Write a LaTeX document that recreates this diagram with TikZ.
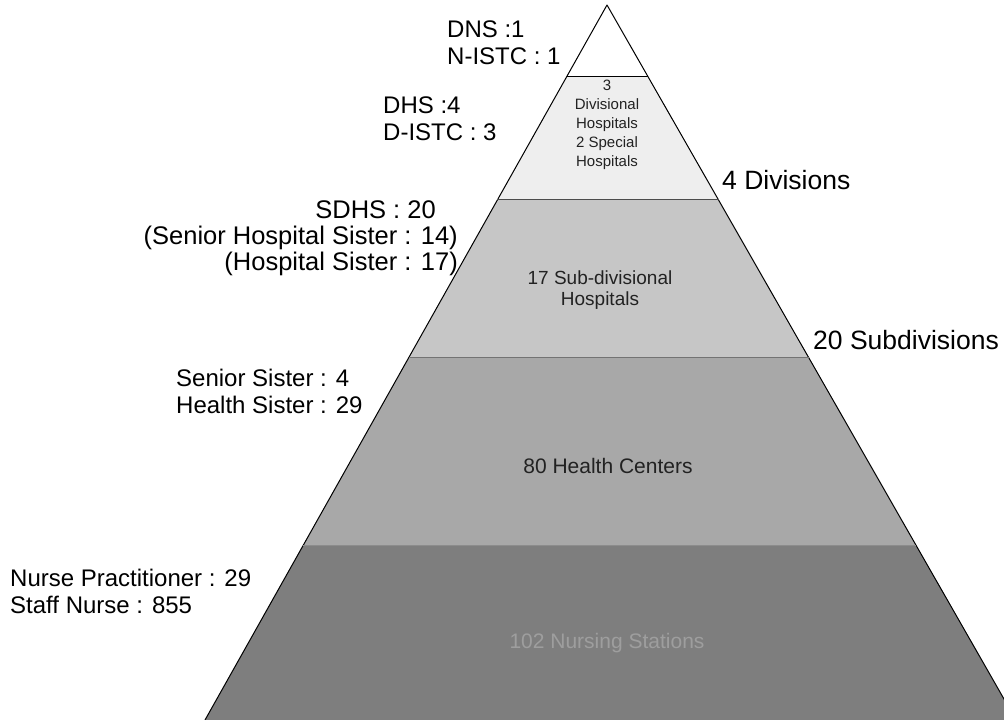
\documentclass[tikz,border=0pt]{standalone}
\usepackage{fontspec}
\setmainfont{Liberation Sans}
\usetikzlibrary{calc}
\definecolor{tiertwo}{HTML}{EEEEEE}
\definecolor{tierthree}{HTML}{C6C6C6}
\definecolor{tierfour}{HTML}{A8A8A8}
\definecolor{tierfive}{HTML}{7E7E7E}
\definecolor{txtdark}{HTML}{222222}
\definecolor{txtpale}{HTML}{9E9E9E}

\begin{document}
\begin{tikzpicture}[x=1pt, y=-1pt,
  side/.style={font=\fontsize{24}{27}\selectfont, inner sep=0pt, text=black},
  unit/.style={font=\fontsize{26.5}{30}\selectfont, inner sep=0pt, text=black},
  tier/.style={align=center, inner sep=0pt, text=txtdark},
  edge/.style={draw=black, line width=1pt, line join=round},
]

\useasboundingbox (0,0) rectangle (1004,720);

% pyramid corners and tier boundaries
\coordinate (apex) at (607,5);
\coordinate (bl) at (205,720);
\coordinate (br) at (1016,720);
\coordinate (l1) at ($(apex)!0.1007!(bl)$);
\coordinate (r1) at ($(apex)!0.1007!(br)$);
\coordinate (l2) at ($(apex)!0.2727!(bl)$);
\coordinate (r2) at ($(apex)!0.2727!(br)$);
\coordinate (l3) at ($(apex)!0.4937!(bl)$);
\coordinate (r3) at ($(apex)!0.4937!(br)$);
\coordinate (l4) at ($(apex)!0.7566!(bl)$);
\coordinate (r4) at ($(apex)!0.7566!(br)$);

\begin{scope}
\clip (0,0) rectangle (1004,720);
\fill[tiertwo] (l1) -- (r1) -- (r2) -- (l2) -- cycle;
\fill[tierthree] (l2) -- (r2) -- (r3) -- (l3) -- cycle;
\fill[tierfour] (l3) -- (r3) -- (r4) -- (l4) -- cycle;
\fill[tierfive] (l4) -- (r4) -- (br) -- (bl) -- cycle;
\draw[edge] (bl) -- (apex) -- (br);
\draw[edge] (l1) -- (r1);
\draw[edge, draw=black!70] (l2) -- (r2);
\draw[edge, draw=black!55] (l3) -- (r3);
\draw[edge, draw=black!45] (l4) -- (r4);
\end{scope}

% labels inside the tiers
\node[tier, font=\fontsize{15}{19}\selectfont] (tdiv) at (607,125)
  {3\\Divisional\\Hospitals\\2 Special\\Hospitals};
\node[tier, font=\fontsize{19}{21}\selectfont] (tsub) at (600,290)
  {17 Sub-divisional\\Hospitals};
\node[tier, font=\fontsize{21}{25}\selectfont] (thc) at (608,466) {80 Health Centers};
\node[tier, font=\fontsize{21}{25}\selectfont, text=txtpale] (tns) at (607,643)
  {102 Nursing Stations};

% staff counts on the left
\node[side, anchor=west, align=left] (dns) at (447,43) {DNS :1\\N-ISTC : 1};
\node[side, anchor=west, align=left] (dhs) at (383,119) {DHS :4\\D-ISTC : 3};
\node[side, anchor=east, align=right, font=\fontsize{25.5}{26}\selectfont] (sdhs) at (458,238)
  {SDHS : 20\rule{22pt}{0pt}\\(Senior Hospital Sister : 14)\\(Hospital Sister : 17)};
\node[side, anchor=west, align=left] (sister) at (176,391)
  {Senior Sister : 4\\Health Sister : 29};
\node[side, anchor=west, align=left] (nurse) at (10,591)
  {Nurse Practitioner : 29\\Staff Nurse : 855};

% units on the right
\node[unit, anchor=west] (div) at (722,180) {4 Divisions};
\node[unit, anchor=west] (subdiv) at (813,340) {20 Subdivisions};
\end{tikzpicture}
\end{document}
